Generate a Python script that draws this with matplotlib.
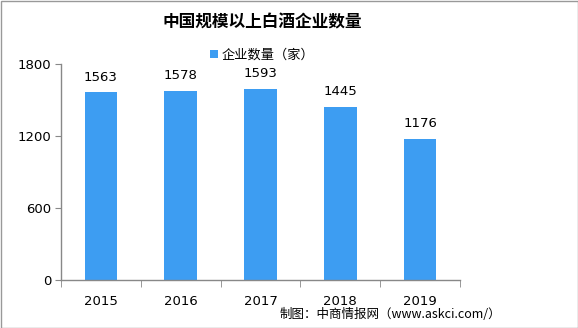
import matplotlib
matplotlib.use("Agg")
import matplotlib.pyplot as plt
from matplotlib.patches import Rectangle

plt.rcParams['font.family'] = ['Noto Sans CJK SC', 'DejaVu Sans']

years = ['2015', '2016', '2017', '2018', '2019']
counts = [1563, 1578, 1593, 1445, 1176]
yticks = [0, 600, 1200, 1800]

W, H = 578, 328
fig = plt.figure(figsize=(W/100, H/100), dpi=100)
ax = fig.add_axes([61/W, 1-280/H, (460-61)/W, (280-64)/H])

x = list(range(len(years)))
bar_color = '#3d9df2'
ax.bar(x, counts, width=0.41, color=bar_color, label='企业数量（家）', zorder=2)
for xi, v in zip(x, counts):
    ax.text(xi, v + 70, str(v), ha='center', va='bottom', fontsize=9.5, family=['DejaVu Sans'])

ax.set_xlim(-0.5, len(years) - 0.5)
ax.set_ylim(0, 1800)
ax.set_yticks(yticks)
ax.set_yticklabels([str(t) for t in yticks], fontsize=9.5, family=['DejaVu Sans'])
ax.set_xticks(x)
ax.set_xticklabels(years, fontsize=9.5, family=['DejaVu Sans'])
ax.tick_params(axis='x', length=0, pad=11)
ax.set_xticks([i - 0.5 for i in range(len(years) + 1)], minor=True)
ax.tick_params(axis='x', which='minor', length=5, color='#888888', direction='out')
ax.tick_params(axis='y', length=4, color='#888888', direction='out', pad=3)
for s in ['top', 'right']:
    ax.spines[s].set_visible(False)
for s in ['left', 'bottom']:
    ax.spines[s].set_color('#888888')
    ax.spines[s].set_linewidth(1)

fig.text(262/W, 1-22/H, '中国规模以上白酒企业数量', ha='center', va='center',
         fontsize=12, fontweight='bold')
leg = fig.legend(loc='center', bbox_to_anchor=(262/W, 1-55/H), frameon=False,
                 fontsize=9.5, handlelength=0.6, handleheight=0.6, handletextpad=0.3)
fig.text(501/W, 1-314/H, '制图：中商情报网（www.askci.com/）', ha='right', va='center', fontsize=9)

fig.patches.append(Rectangle((0.5/W, 0.5/H), 1-1/W, 1-1.5/H, transform=fig.transFigure,
                             fill=False, edgecolor='#999999', linewidth=1))

fig.savefig('out.png', dpi=100)
